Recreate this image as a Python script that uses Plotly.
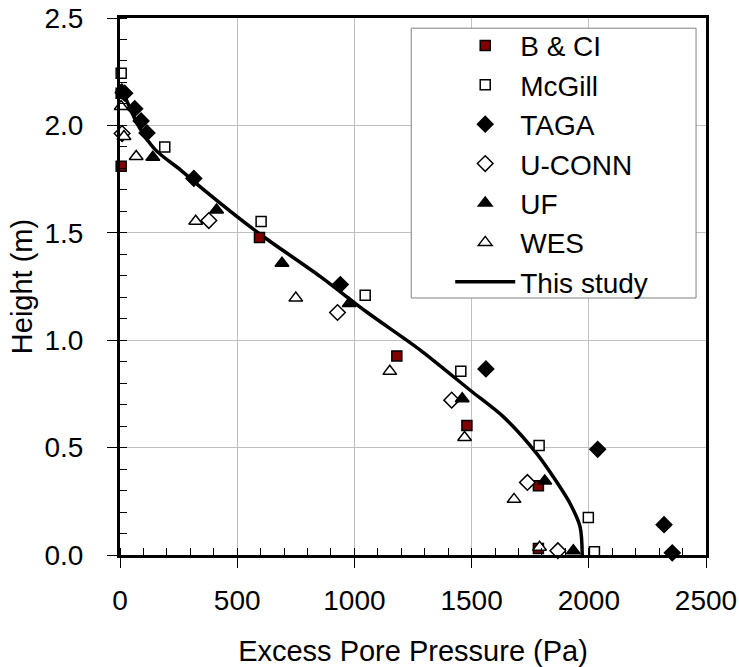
import plotly.graph_objects as go

# ---- data ----
bci_x = [5, 5, 595, 1181, 1480, 1785, 1785]
bci_y = [2.15, 1.81, 1.478, 0.927, 0.603, 0.322, 0.03]

mcgill_x = [5, 191, 602, 1046, 1454, 1788, 1998, 2024]
mcgill_y = [2.243, 1.90, 1.553, 1.209, 0.855, 0.51, 0.174, 0.015]

taga_x = [20, 63, 90, 115, 315, 940, 1561, 2038, 2321, 2356]
taga_y = [2.15, 2.078, 2.021, 1.965, 1.753, 1.259, 0.866, 0.492, 0.141, 0.010]

uconn_x = [9, 379, 928, 1415, 1738, 1868]
uconn_y = [1.962, 1.557, 1.129, 0.721, 0.338, 0.020]

uf_x = [8, 140, 412, 691, 978, 1460, 1812, 1934]
uf_y = [2.165, 1.852, 1.606, 1.358, 1.171, 0.728, 0.345, 0.020]

wes_x = [5, 17, 69, 323, 750, 1151, 1470, 1681, 1790]
wes_y = [2.088, 1.948, 1.855, 1.554, 1.196, 0.855, 0.547, 0.259, 0.036]

study_x = [0, 80, 151, 258, 350, 592, 855, 1054, 1281, 1494, 1636, 1778, 1849, 1920, 1963, 1972]
study_y = [2.19, 1.995, 1.886, 1.793, 1.707, 1.498, 1.296, 1.13, 0.954, 0.767, 0.643, 0.472, 0.363, 0.24, 0.13, 0.0]

FONT = "Liberation Sans, Arial, sans-serif"

fig = go.Figure()

fig.add_trace(go.Scatter(
    x=study_x, y=study_y, mode="lines", name="This study",
    line=dict(color="black", width=3.5, shape="spline", smoothing=0.8),
    legendrank=7, cliponaxis=False))

def add_pts(x, y, name, symbol, fill, size, rank):
    fig.add_trace(go.Scatter(
        x=x, y=y, mode="markers", name=name, legendrank=rank, cliponaxis=False,
        marker=dict(symbol=symbol, color=fill, size=size,
                    line=dict(color="black", width=1.5))))

add_pts(bci_x, bci_y, "B & CI", "square", "#800000", 10, 1)
add_pts(mcgill_x, mcgill_y, "McGill", "square", "white", 10, 2)
add_pts(taga_x, taga_y, "TAGA", "diamond", "black", 12, 3)
add_pts(uconn_x, uconn_y, "U-CONN", "diamond", "white", 12, 4)
add_pts(uf_x, uf_y, "UF", "triangle-up", "black", 12, 5)
add_pts(wes_x, wes_y, "WES", "triangle-up", "white", 12, 6)

axis_common = dict(
    showline=True, linecolor="black", linewidth=3, mirror=True,
    showgrid=True, gridcolor="#c0c0c0", gridwidth=1,
    zeroline=False, ticks="outside", ticklen=10, tickwidth=1, tickcolor="black",
    tickfont=dict(family=FONT, size=28, color="black"),
    ticklabeloverflow="allow",
)

fig.update_xaxes(
    **axis_common, range=[0, 2500], tickmode="linear", tick0=0, dtick=500,
    minor=dict(ticks="inside", dtick=100, ticklen=7, tickwidth=1, tickcolor="black", showgrid=False),
    title=dict(text="Excess Pore Pressure (Pa)", font=dict(family=FONT, size=29, color="black"), standoff=27),
    ticklabelstandoff=8,
)
fig.update_yaxes(
    **axis_common, range=[0, 2.5], tickmode="linear", tick0=0, dtick=0.5, tickformat=".1f",
    minor=dict(ticks="inside", dtick=0.1, ticklen=7, tickwidth=1, tickcolor="black", showgrid=False),
    title=dict(text="Height (m)", font=dict(family=FONT, size=29, color="black"), standoff=4),
    ticklabelstandoff=18,
)

# legend frame (box drawn behind the legend entries)
fig.add_shape(type="rect", xref="paper", yref="paper",
              x0=0.497, x1=0.983, y0=0.4786, y1=0.981,
              line=dict(color="#808080", width=1), fillcolor="white", layer="above")

fig.update_layout(
    width=739, height=667,
    margin=dict(l=119.5, r=33, t=18, b=112, autoexpand=False),
    paper_bgcolor="white", plot_bgcolor="white",
    font=dict(family=FONT, color="black"),
    legend=dict(x=0.5635, y=0.995, xanchor="left", yanchor="top",
                bgcolor="rgba(0,0,0,0)", borderwidth=0,
                font=dict(family=FONT, size=28, color="black"),
                itemwidth=60, tracegroupgap=0),
)

fig.write_html("out.html", config={"displayModeBar": False},
               post_script="document.body.style.margin='0';")
